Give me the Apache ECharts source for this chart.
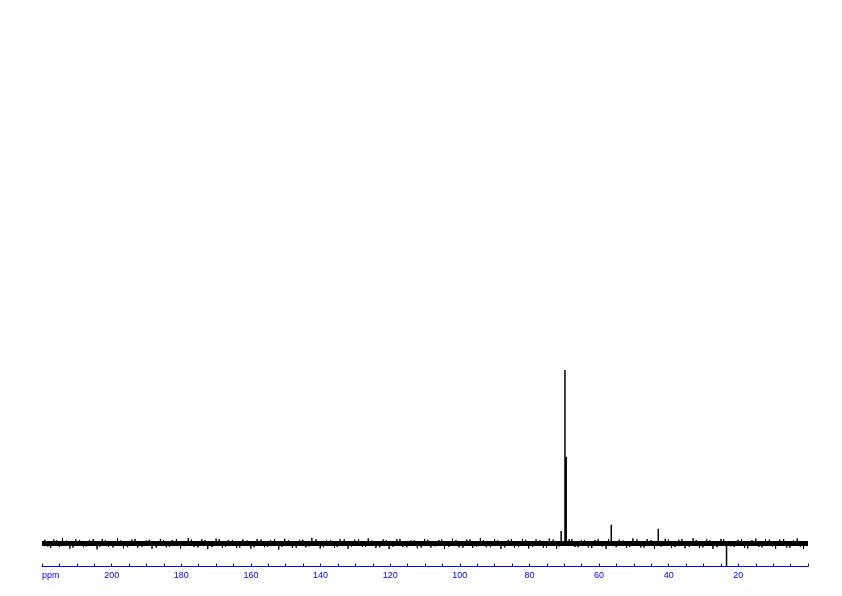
<!DOCTYPE html>
<html>
<head>
<meta charset="utf-8">
<script src="https://cdn.jsdelivr.net/npm/echarts@6/dist/echarts.min.js"></script>
<style>html,body{margin:0;padding:0;background:#fff}#c{width:842px;height:596px}</style>
</head>
<body>
<div id="c"></div>
<script>
// Axis ticks (ppm)
const tickLabels = [200, 180, 160, 140, 120, 100, 80, 60, 40, 20];
// Peak positions (ppm) and intensities (relative, tallest = 100)
const peakPpm = [70.9, 69.8, 69.45, 56.5, 43.0, 23.4];
const peakVal = [7.2, 100, 50, 10.7, 8.4, -13.3];
// Baseline noise spikes (ppm, intensity)
const noisePpm = [219.2,217.5,215.8,214.1,212.0,210.3,208.1,206.4,204.2,202.7,200.9,198.3,196.6,194.2,192.5,190.1,188.4,186.0,184.3,182.6,180.2,178.0,176.3,174.1,172.4,170.0,168.2,166.5,164.1,162.3,160.0,158.2,156.1,154.4,152.0,150.3,148.1,146.0,144.2,142.5,140.1,138.3,136.0,134.4,132.1,130.2,128.0,126.3,124.1,122.0,120.3,118.1,116.4,114.0,112.2,110.1,108.3,106.0,104.4,102.1,100.2,98.0,96.3,94.1,92.4,90.0,88.2,86.1,84.3,82.0,80.2,78.1,76.0,74.3,72.2,67.8,66.0,64.2,62.1,60.3,58.0,54.2,52.1,50.3,48.0,46.2,44.1,41.0,39.2,37.1,35.3,33.0,31.2,29.1,27.3,25.0,21.2,19.1,17.3,15.0,13.2,11.1,9.3,7.0,5.2,3.1,1.3];
const noiseVal = [2.1,-2.6,1.8,3.2,-3.0,2.4,-2.2,1.9,-3.4,2.6,-2.0,3.0,-2.8,2.2,-2.5,1.7,-3.1,2.5,-2.3,2.0,-2.9,3.1,-2.1,2.4,-3.3,2.8,-2.4,1.9,-2.7,2.3,-3.0,2.6,-2.2,2.0,-3.5,2.7,-2.6,2.1,-2.3,3.2,-2.9,2.0,-2.5,2.4,-3.1,2.2,-2.0,2.9,-2.7,2.3,-3.2,2.5,-2.1,1.8,-2.8,2.6,-2.4,2.0,-3.0,2.7,-2.3,2.2,-2.6,3.0,-2.2,2.4,-3.1,2.1,-2.5,2.6,-2.9,2.3,-2.4,2.8,-3.0,2.5,-2.2,2.0,-2.7,2.4,-3.1,2.2,-2.6,2.9,-2.3,2.5,-3.0,2.7,-2.4,2.1,-2.8,3.0,-2.5,2.3,-3.2,2.6,-2.1,2.4,-2.9,2.8,-2.3,2.2,-3.0,2.6,-2.5,2.9,-3.3];
const noise2Ppm = [218.3,216.6,215.0,213.0,211.1,209.2,207.3,205.3,203.4,201.8,199.6,197.4,195.4,193.3,191.3,189.2,187.2,185.1,183.4,181.4,179.1,177.1,175.2,173.2,171.2,169.1,167.3,165.3,163.2,161.1,159.1,157.1,155.2,153.2,151.1,149.2,147.0,145.1,143.3,141.3,139.2,137.1,135.2,133.2,131.1,129.1,127.1,125.2,123.0,121.1,119.2,117.2,115.2,113.1,111.1,109.2,107.1,105.2,103.2,101.1,99.1,97.1,95.2,93.2,91.2,89.1,87.1,85.2,83.1,81.1,79.1,77.0,75.1,73.2,71.5,68.6,66.9,65.1,63.1,61.2,59.1,57.3,55.1,53.1,51.2,49.1,47.1,45.1,42.2,40.1,38.2,36.2,34.1,32.1,30.2,28.2,26.1,24.2,22.2,20.1,18.2,16.1,14.1,12.2,10.2,8.1,6.1,4.2,2.2];
const noise2Val = [-1.8,2.3,-2.1,1.6,-2.4,2.0,-1.7,2.5,-2.0,1.9,-2.3,1.7,-2.2,2.6,-1.9,2.1,-2.5,1.8,-2.0,2.4,-1.6,2.2,-2.3,1.9,-2.1,2.5,-1.8,2.0,-2.4,1.7,-2.2,2.3,-1.9,2.6,-2.0,1.8,-2.5,2.1,-1.7,2.4,-2.2,1.9,-2.0,2.3,-1.8,2.5,-2.1,1.7,-2.3,2.0,-1.9,2.6,-2.2,1.8,-2.4,2.1,-1.7,2.2,-2.0,1.9,-2.5,2.3,-1.8,2.0,-2.2,1.7,-2.3,2.4,-1.9,2.1,-2.0,1.8,-2.4,2.2,-1.7,2.5,-2.1,1.9,-2.3,2.0,-1.8,2.6,-2.2,1.7,-2.0,2.3,-2.4,1.9,-1.8,2.2,-2.1,2.5,-1.9,2.0,-2.3,1.8,-2.2,2.4,-1.7,2.1,-2.5,1.9,-2.0,2.3,-1.8,2.2,-2.4,1.7,-2.1];

function spikes(xs, ys) {
  const d = [];
  for (let i = 0; i < xs.length; i++) {
    d.push([xs[i], 0], [xs[i], ys[i]], [xs[i], 0]);
  }
  return d;
}

const chart = echarts.init(document.getElementById('c'), null, {renderer: 'canvas'});
const blue = '#0000ff';
chart.setOption({
  animation: false,
  backgroundColor: '#ffffff',
  grid: {left: 42, right: 34, top: 22.9, bottom: 29.5, containLabel: false},
  xAxis: {
    type: 'value', inverse: true, min: 0, max: 220, interval: 20,
    axisLine: {show: true, onZero: false, lineStyle: {color: blue, width: 1}},
    axisTick: {show: true, inside: true, length: 3, lineStyle: {color: blue}},
    minorTick: {show: true, splitNumber: 4, length: 3, lineStyle: {color: blue}},
    splitLine: {show: false},
    axisLabel: {
      color: blue, fontSize: 9, fontFamily: 'Liberation Sans', margin: 5,
      formatter: v => (tickLabels.indexOf(v) >= 0 ? String(v) : '')
    }
  },
  yAxis: {type: 'value', min: -13.3, max: 300, show: false},
  graphic: [{
    type: 'text', left: 42, top: 571,
    style: {text: 'ppm', fill: blue, font: '9px "Liberation Sans"'}
  }],
  series: [
    {
      type: 'line', data: [[220, 0], [0, 0]], symbol: 'none', silent: true,
      lineStyle: {color: '#000', width: 5}
    },
    {
      type: 'line', data: spikes(noisePpm, noiseVal), symbol: 'none', silent: true,
      lineStyle: {color: '#000', width: 1}
    },
    {
      type: 'line', data: spikes(noise2Ppm, noise2Val), symbol: 'none', silent: true,
      lineStyle: {color: '#000', width: 1}
    },
    {
      type: 'line', data: spikes(peakPpm, peakVal), symbol: 'none', silent: true,
      lineStyle: {color: '#000', width: 1.5}
    }
  ]
});
</script>
</body>
</html>
